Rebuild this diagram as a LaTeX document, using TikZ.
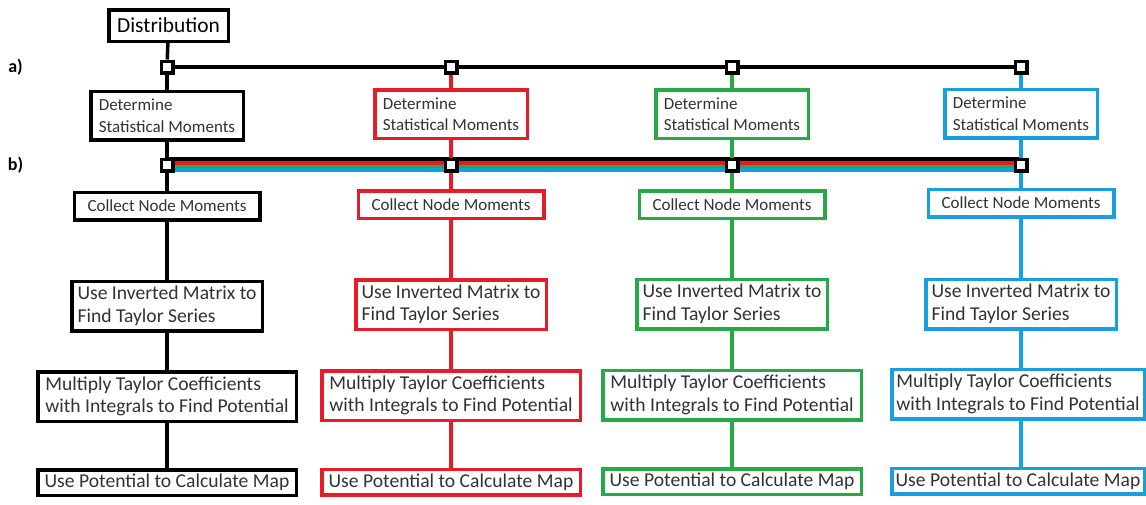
\documentclass[tikz,border=0pt]{standalone}
\usepackage{fontspec}
\setmainfont{Carlito}
\usetikzlibrary{positioning,backgrounds}
\definecolor{mmRed}{RGB}{232,28,38}
\definecolor{mmGreen}{RGB}{38,170,72}
\definecolor{mmBlue}{RGB}{22,160,224}
\definecolor{mmText}{RGB}{50,50,50}
\tikzset{
    base/.style={font=\fontsize{17}{21.5}\selectfont, align=left, text=mmText},
    stage/.style={base, rectangle, line width=3.5pt, fill=white, inner sep=0pt},
    bigtext/.style={font=\fontsize{19.6}{22.5}\selectfont},
    detbox/.style={stage, minimum width=152.5pt, minimum height=48.5pt},
    colbox/.style={stage, minimum width=185.5pt, minimum height=27.5pt},
    invbox/.style={stage, bigtext, minimum width=190.5pt, minimum height=49.5pt},
    mulbox/.style={stage, bigtext, minimum width=258.5pt, minimum height=49.5pt},
    usebox/.style={stage, bigtext, minimum width=258.5pt, minimum height=25.5pt},
    junction/.style={rectangle, draw=black, line width=3.5pt, fill=white,
                     minimum size=11.5pt, inner sep=0pt},
    link/.style={line width=3.5pt},
    stripe/.style={line width=3.6pt},
    tag/.style={font=\fontsize{18}{20}\selectfont\bfseries, text=black}
}

\begin{document}
\begin{tikzpicture}[x=1pt, y=-1pt]
  \useasboundingbox (0,0) rectangle (1146,504);

  % row tags
  \node[tag] (taga) at (15.5,67) {a)};
  \node[tag] (tagb) at (15.5,165) {b)};

  % source box
  \node[stage, draw=black, text=black, font=\fontsize{21.4}{24}\selectfont,
        minimum width=119.5pt, minimum height=31.5pt] (dist) at (168.5,25.5) {Distribution};

  % junctions
  \node[junction] (a1) at (167,67) {};
  \node[junction] (a2) at (451,67) {};
  \node[junction] (a3) at (732,67) {};
  \node[junction] (a4) at (1021,67) {};
  \node[junction] (b1) at (167,165) {};
  \node[junction] (b2) at (451,165) {};
  \node[junction] (b3) at (732,165) {};
  \node[junction] (b4) at (1021,165) {};

  % black column
  \node[detbox, draw=black] (det1) at (167,115.5) {Determine\\Statistical Moments};
  \node[colbox, draw=black] (col1) at (167,206) {Collect Node Moments};
  \node[invbox, draw=black] (inv1) at (167,306) {Use Inverted Matrix to\\Find Taylor Series};
  \node[mulbox, draw=black] (mul1) at (167,396.5) {Multiply Taylor Coefficients\\with Integrals to Find Potential};
  \node[usebox, draw=black] (use1) at (167,482.5) {Use Potential to Calculate Map};

  % red column
  \node[detbox, draw=mmRed] (det2) at (451,114) {Determine\\Statistical Moments};
  \node[colbox, draw=mmRed] (col2) at (451,204.5) {Collect Node Moments};
  \node[invbox, draw=mmRed] (inv2) at (451,304.5) {Use Inverted Matrix to\\Find Taylor Series};
  \node[mulbox, draw=mmRed] (mul2) at (451,395.5) {Multiply Taylor Coefficients\\with Integrals to Find Potential};
  \node[usebox, draw=mmRed] (use2) at (451,482) {Use Potential to Calculate Map};

  % green column
  \node[detbox, draw=mmGreen] (det3) at (732,114) {Determine\\Statistical Moments};
  \node[colbox, draw=mmGreen] (col3) at (732,204.5) {Collect Node Moments};
  \node[invbox, draw=mmGreen] (inv3) at (732,304) {Use Inverted Matrix to\\Find Taylor Series};
  \node[mulbox, draw=mmGreen] (mul3) at (732,395) {Multiply Taylor Coefficients\\with Integrals to Find Potential};
  \node[usebox, draw=mmGreen] (use3) at (732,481.5) {Use Potential to Calculate Map};

  % blue column
  \node[detbox, draw=mmBlue] (det4) at (1021,113.5) {Determine\\Statistical Moments};
  \node[colbox, draw=mmBlue] (col4) at (1021,203) {Collect Node Moments};
  \node[invbox, draw=mmBlue] (inv4) at (1021,304) {Use Inverted Matrix to\\Find Taylor Series};
  \node[mulbox, draw=mmBlue, minimum width=252.5pt] (mul4) at (1018,394) {Multiply Taylor Coefficients\\with Integrals to Find Potential};
  \node[usebox, draw=mmBlue, minimum width=252.5pt] (use4) at (1018,481) {Use Potential to Calculate Map};

  % connectors behind the boxes
  \begin{scope}[on background layer]
    \draw[link] (dist) -- (a1);
    \draw[link] (a1) -- (a2) -- (a3) -- (a4);
    \draw[stripe, black]   ([yshift=5.9pt]b1.center) -- ([yshift=5.9pt]b4.center);
    \draw[stripe, mmRed]   ([yshift=2.3pt]b1.center) -- ([yshift=2.3pt]b4.center);
    \draw[stripe, mmGreen] ([yshift=-1.3pt]b1.center) -- ([yshift=-1.3pt]b4.center);
    \draw[stripe, mmBlue]  ([yshift=-4.9pt]b1.center) -- ([yshift=-4.9pt]b4.center);
    \draw[link, black] (a1) -- (det1) -- (b1) -- (col1) -- (inv1) -- (mul1) -- (use1);
    \draw[link, mmRed] (a2) -- (det2) -- (b2) -- (col2) -- (inv2) -- (mul2) -- (use2);
    \draw[link, mmGreen] (a3) -- (det3) -- (b3) -- (col3) -- (inv3) -- (mul3) -- (use3);
    \draw[link, mmBlue] (a4) -- (det4) -- (b4) -- (col4) -- (inv4) -- (inv4 |- mul4.north);
    \draw[link, mmBlue] (inv4 |- mul4.south) -- (inv4 |- use4.north);
  \end{scope}
\end{tikzpicture}
\end{document}
